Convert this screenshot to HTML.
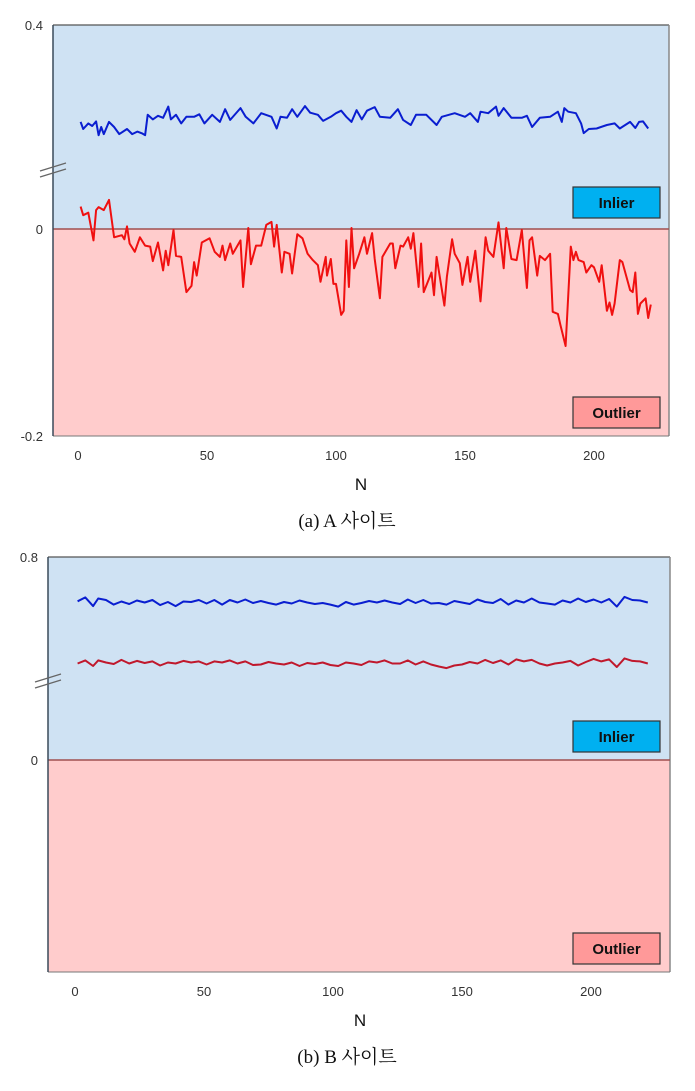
<!DOCTYPE html>
<html><head><meta charset="utf-8">
<style>
body{margin:0;background:#fff;width:695px;height:1086px;overflow:hidden;font-family:"Liberation Sans",sans-serif;}
svg text{font-family:"Liberation Sans",sans-serif;}
</style></head>
<body>
<svg id="c" width="695" height="1086" xmlns="http://www.w3.org/2000/svg"></svg>
<script>
// ---- Chart A data ----
const aRedN=[1,2,4,6,7,8,10,12,14,17,18,19,20,22,24,26,28,29,31,33,34,35,37,38,40,42,44,45,46,48,51,53,55,56,57,59,60,63,64,66,67,69,71,73,75,76,77,79,80,82,83,85,87,89,91,93,94,96,96.5,98,99,100,102,103,104,105,106,107,109,111,112,114,115,117,118,121,122,123,125,126,128,129,130,132,133,134,137,138,139,142,143,145,146,148,149,151,152,154,156,158,159,161,163,165,166,168,170,172,174,175,176,178,179,181,183,184,186,187,189,191,192,193,194,196,197,199,200,202,203,205,206,207,208,210,211,214,215,216,217,218,220,221,222];
const aRed=[0.044,0.027,0.032,-0.011,0.037,0.043,0.037,0.057,-0.008,-0.006,-0.010,0.005,-0.014,-0.022,-0.008,-0.016,-0.017,-0.031,-0.013,-0.040,-0.021,-0.035,-0.001,-0.026,-0.027,-0.061,-0.055,-0.032,-0.045,-0.013,-0.009,-0.022,-0.027,-0.016,-0.030,-0.014,-0.024,-0.011,-0.056,0.002,-0.034,-0.016,-0.016,0.008,0.014,-0.017,0.008,-0.042,-0.022,-0.024,-0.043,-0.005,-0.009,-0.024,-0.030,-0.035,-0.051,-0.027,-0.045,-0.029,-0.053,-0.053,-0.083,-0.079,-0.011,-0.056,0.002,-0.038,-0.024,-0.008,-0.024,-0.004,-0.029,-0.067,-0.027,-0.014,-0.014,-0.038,-0.016,-0.017,-0.008,-0.019,-0.004,-0.056,-0.014,-0.061,-0.042,-0.064,-0.027,-0.074,-0.046,-0.010,-0.024,-0.033,-0.054,-0.027,-0.051,-0.021,-0.070,-0.008,-0.021,-0.027,0.013,-0.038,0.002,-0.029,-0.030,-0.001,-0.057,-0.011,-0.008,-0.045,-0.026,-0.030,-0.024,-0.080,-0.082,-0.093,-0.113,-0.017,-0.030,-0.022,-0.030,-0.032,-0.042,-0.035,-0.037,-0.051,-0.035,-0.079,-0.071,-0.083,-0.072,-0.030,-0.032,-0.059,-0.061,-0.042,-0.082,-0.072,-0.067,-0.086,-0.073];
const aBlueN=[1,2,4,5.5,7,8,9,10,12,14,16,19,21,23,25,26,27,29,31,33,35,36,38,40,42,45,47,49,52,55,57,59,63,65,68,71,75,77,78.5,81,83,85,88,90,93,95,98,100,102,104,106,108,110,112,115,117,121,124,126,129,131,135,139,141,146,150,152,155,156,159,162,163,165,168,172,174,176,179,183,186,187.5,188.5,190,193,195,196,198,201,205,208,210,214,216,217.5,219,221];
const aBlue=[0.210,0.196,0.207,0.202,0.211,0.184,0.200,0.186,0.210,0.200,0.186,0.196,0.186,0.191,0.187,0.184,0.224,0.215,0.222,0.218,0.240,0.215,0.224,0.207,0.220,0.220,0.225,0.207,0.224,0.210,0.235,0.214,0.237,0.220,0.207,0.227,0.220,0.197,0.220,0.218,0.235,0.220,0.241,0.228,0.224,0.212,0.220,0.227,0.232,0.220,0.210,0.233,0.215,0.232,0.239,0.220,0.218,0.235,0.214,0.204,0.224,0.224,0.204,0.220,0.227,0.220,0.227,0.210,0.230,0.227,0.240,0.222,0.237,0.218,0.218,0.222,0.200,0.218,0.220,0.230,0.210,0.237,0.230,0.227,0.207,0.188,0.196,0.197,0.204,0.207,0.197,0.210,0.198,0.210,0.211,0.197];
// ---- Chart B data ----
const bN=[1,4,7,9,12,15,18,21,24,27,30,33,36,39,42,45,48,51,54,57,60,63,66,69,72,75,78,81,84,87,90,93,96,99,102,105,108,111,114,117,120,123,126,129,132,135,138,141,144,147,150,153,156,159,162,165,168,171,174,177,180,183,186,189,192,195,198,201,204,207,210,213,216,219,222];
const bBlue=[0.625,0.640,0.606,0.636,0.630,0.612,0.624,0.614,0.628,0.620,0.630,0.610,0.622,0.606,0.624,0.622,0.630,0.616,0.630,0.612,0.630,0.620,0.632,0.618,0.626,0.618,0.612,0.622,0.616,0.628,0.620,0.614,0.618,0.612,0.604,0.622,0.612,0.618,0.626,0.620,0.628,0.620,0.614,0.632,0.618,0.630,0.616,0.618,0.612,0.626,0.620,0.614,0.632,0.622,0.618,0.634,0.612,0.628,0.620,0.636,0.620,0.616,0.612,0.628,0.620,0.636,0.622,0.632,0.620,0.634,0.604,0.642,0.630,0.628,0.620];
const bRed=[0.380,0.392,0.370,0.392,0.384,0.378,0.394,0.380,0.390,0.382,0.388,0.372,0.384,0.380,0.390,0.384,0.388,0.376,0.388,0.384,0.392,0.380,0.388,0.374,0.376,0.386,0.380,0.376,0.384,0.370,0.382,0.378,0.384,0.374,0.370,0.384,0.380,0.374,0.388,0.384,0.392,0.380,0.380,0.392,0.376,0.388,0.376,0.368,0.362,0.372,0.376,0.386,0.380,0.394,0.382,0.392,0.376,0.396,0.388,0.394,0.380,0.372,0.380,0.384,0.390,0.372,0.386,0.398,0.388,0.396,0.366,0.400,0.390,0.388,0.380];
const xTicks=[0,50,100,150,200];

const svg=document.getElementById('c');
const NS='http://www.w3.org/2000/svg';
function mk(tag,attrs,parent){const e=document.createElementNS(NS,tag);for(const k in attrs)e.setAttribute(k,attrs[k]);(parent||svg).appendChild(e);return e;}

function chart(cfg){
  const g=mk('g',{});
  
  
  const {L,R,T,B,Z,x0,xs}=cfg;
  const X=n=>x0+n*xs;
  const Y=cfg.Y;
  let r=mk('rect',{x:L,y:T,width:R-L,height:Z-T,fill:'#cfe2f3'},g);
  
  r=mk('rect',{x:L,y:Z,width:R-L,height:B-Z,fill:'#ffcccc'},g);
  
  mk('line',{x1:L,y1:T,x2:R,y2:T,stroke:'#555','stroke-width':1.2},g);
  mk('line',{x1:R,y1:T,x2:R,y2:B,stroke:'#888','stroke-width':1.5},g);
  mk('line',{x1:L,y1:B,x2:R,y2:B,stroke:'#777','stroke-width':1},g);
  let zl=mk('line',{x1:L,y1:Z,x2:R,y2:Z,stroke:'#a05050','stroke-width':1.5},g);
  
  let ya=mk('line',{x1:L,y1:T,x2:L,y2:B,stroke:'#3a4a5a','stroke-width':1.5},g);
  
  // break marks
  const bk=mk('g',{stroke:'#666','stroke-width':1.3},g);
  
  mk('line',{x1:L-13,y1:cfg.brk+4,x2:L+13,y2:cfg.brk-4},bk);
  mk('line',{x1:L-13,y1:cfg.brk+10,x2:L+13,y2:cfg.brk+2},bk);
  // y labels
  cfg.yLabels.forEach(([t,y])=>{const e=mk('text',{x:L-10,y:y+5,'text-anchor':'end','font-size':13,fill:'#333'},g);e.textContent=t;
    });
  xTicks.forEach(v=>{const e=mk('text',{x:X(v),y:B+24,'text-anchor':'middle','font-size':13,fill:'#333'},g);e.textContent=v;
    });
  cfg.series.forEach(s=>{
    const p=mk('polyline',{points:s.n.map((n,i)=>X(n).toFixed(1)+','+Y(s.v[i]).toFixed(1)).join(' '),fill:'none',stroke:s.color,'stroke-width':2,'stroke-linejoin':'round'},g);
    
    
  });
  // legends
  cfg.legends.forEach(l=>{
    const lg=mk('g',{},g);
    
    
    mk('rect',{x:573,y:l.y,width:87,height:31,fill:l.fill,stroke:'#333','stroke-width':1.2},lg);
    const t=mk('text',{x:616.5,y:l.y+21,'text-anchor':'middle','font-size':15,'font-weight':'bold',fill:'#111'},lg);t.textContent=l.text;
  });
  let xt=mk('text',{x:cfg.nx,y:B+54,'text-anchor':'middle','font-size':17,'font-family':'Liberation Serif',fill:'#111'},g);
  xt.textContent='N';
  let cp=mk('text',{x:347,y:B+91,'text-anchor':'middle','font-size':19,fill:'#111'},g);
  cp.setAttribute('style','font-family:"Liberation Serif","Noto Serif CJK SC",serif');
  cp.textContent=cfg.caption;
}

chart({name:'chart-a',L:53,R:669,T:25,B:436,Z:229,x0:78,xs:2.58,brk:167,nx:361,
  Y:v=>v>=0?229-v*510:229-v*1035,
  yLabels:[['0.4',25],['0',229],['-0.2',436]],
  series:[{name:'inlier-line-a',n:aBlueN,v:aBlue,color:'#0a1ed0'},{name:'outlier-line-a',n:aRedN,v:aRed,color:'#f01010'}],
  legends:[{name:'legend-inlier-a',y:187,fill:'#00b0f0',text:'Inlier'},{name:'legend-outlier-a',y:397,fill:'#ff9999',text:'Outlier'}],
  caption:'(a)  A  사이트'});
chart({name:'chart-b',L:48,R:670,T:557,B:972,Z:760,x0:75,xs:2.58,brk:678,nx:360,
  Y:v=>760-v*254,
  yLabels:[['0.8',557],['0',760]],
  series:[{name:'inlier-line-b',n:bN,v:bBlue,color:'#0a1ed0'},{name:'outlier-line-b',n:bN,v:bRed,color:'#c0182c'}],
  legends:[{name:'legend-inlier-b',y:721,fill:'#00b0f0',text:'Inlier'},{name:'legend-outlier-b',y:933,fill:'#ff9999',text:'Outlier'}],
  caption:'(b)  B  사이트'});
</script>
</body></html>
